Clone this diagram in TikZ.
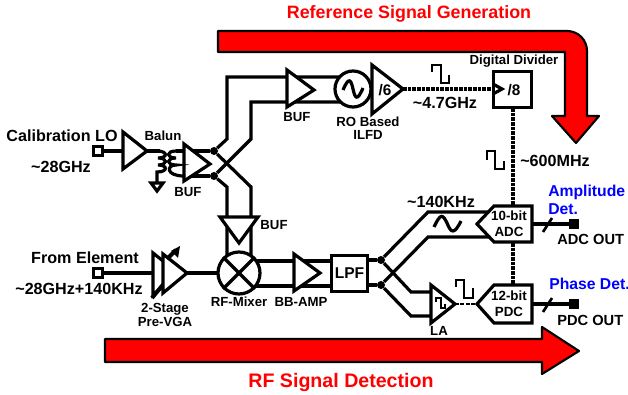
\documentclass[tikz,border=0pt]{standalone}
\usepackage{fontspec}
\setmainfont{Liberation Sans}
\begin{document}
\begin{tikzpicture}[x=0.75pt,y=-0.75pt,line join=miter,
  wire/.style={draw=black,line width=2.4pt},
  thin wire/.style={draw=black,line width=2pt},
  dwire/.style={draw=black,line width=2.8pt,dash pattern=on 2.8pt off 0.7pt},
  block/.style={draw=black,line width=2.4pt,fill=white},
  redarrow/.style={draw=black,line width=1.6pt,fill=red,line join=round},
  lab/.style={inner sep=0pt,font=\bfseries\fontsize{9.9}{11}\selectfont,align=center,text=black},
  big/.style={inner sep=0pt,font=\bfseries\fontsize{12.1}{14}\selectfont,align=center,text=black},
  mid/.style={inner sep=0pt,font=\bfseries\fontsize{12.1}{14}\selectfont,align=center,text=black},
  out lab/.style={inner sep=0pt,font=\bfseries\fontsize{11}{12}\selectfont,anchor=west,text=black},
  blue lab/.style={inner sep=0pt,font=\bfseries\fontsize{11.8}{14}\selectfont,align=left,text=blue,anchor=west},
  red lab/.style={inner sep=0pt,font=\bfseries\fontsize{13.4}{15}\selectfont,text=red},
  dot/.style={circle,fill=black,inner sep=0pt,minimum size=6pt},
  padbox/.style={draw=black,line width=2.2pt,fill=white,inner sep=0pt,minimum size=6.4pt},
  outbox/.style={fill=black,inner sep=0pt,minimum size=7.5pt}]
\useasboundingbox (0,0) rectangle (628,395);

% red arrows
\path[redarrow] (218,31) -- (567,31) to[out=0,in=90] (587,51) -- (587,116) -- (599,116) -- (576,143) -- (552,116) -- (565,116) -- (565,52) -- (218,52) -- cycle;
\path[redarrow] (105,339) -- (542,339) -- (542,327) -- (579,351) -- (542,374) -- (542,362) -- (105,362) -- cycle;
\node[red lab] (t1) at (409,14) {Reference Signal Generation};
\node[red lab,font=\bfseries\fontsize{14.7}{15}\selectfont] (t2) at (341,382) {RF Signal Detection};

% named points
\node[padbox] (pad1) at (98,151) {};
\node[padbox] (pad2) at (98,273) {};
\node[dot] (d1) at (214,151) {};
\node[dot] (d2) at (214,176) {};
\node[dot] (d3) at (381,260) {};
\node[dot] (d4) at (381,285) {};
\coordinate (loin) at (123,151);
\coordinate (loout) at (147,151);
\coordinate (vin) at (153,273);
\coordinate (vout) at (187,273);
\coordinate (ilfdout) at (403,89);

% wires
\draw[wire] (pad1) -- (loin);
\draw[wire] (pad2) -- (vin);
\draw[wire] (vout) -- (218,273);
\draw[wire] (184,151) -- (d1);
\draw[wire] (184,176) -- (d2);
\draw[wire] (d1) -- (227,139) -- (227,77) -- (340,77);
\draw[wire] (d2) -- (251,139) -- (251,102) -- (340,102);
\draw[wire] (d1) -- (251,187) -- (251,265);
\draw[wire] (d2) -- (227,187) -- (227,265);
\draw[wire] (255,261) -- (331,261);
\draw[wire] (255,286) -- (331,286);
\draw[wire] (368,260) -- (d3);
\draw[wire] (368,285) -- (d4);
\draw[wire] (d3) -- (428,212) -- (490,212);
\draw[wire] (d4) -- (428,237) -- (490,237);
\draw[wire] (d3) -- (411,292) -- (431,292);
\draw[wire] (d4) -- (411,316) -- (431,316);

% blocks
\path[block] (123,132) -- (147,151) -- (123,169) -- cycle;
\path[block] (184,144) -- (210,164) -- (184,181) -- cycle;
\path[block] (287,70) -- (314,90) -- (287,107) -- cycle;
\path[block] (220,217) -- (258,217) -- (239,243) -- cycle;
\path[block] (294,254) -- (320,273) -- (294,291) -- cycle;
\path[block] (431,285) -- (455,304) -- (431,323) -- cycle;
\path[block] (153,253) -- (178,273) -- (153,295) -- cycle;
\draw[wire,line width=3pt] (152,298) -- (166,281);
\path[block] (163,254) -- (187,273) -- (163,293) -- cycle;
\draw[wire,line width=3pt] (167,259) -- (176,250);
\path[fill=black] (180,246) -- (171,251) -- (178,258) -- cycle;
\node[block,circle,minimum size=27pt,inner sep=0pt] (osc) at (353,89) {};
\path[block] (372,65) -- (403,89) -- (372,114) -- cycle;
\node[inner sep=0pt,font=\bfseries\fontsize{11.5}{12}\selectfont] (d6) at (385,90) {/6};
\node[block,minimum width=28pt,minimum height=27.5pt,inner sep=0pt] (div) at (512.5,89.5) {};
\node[inner sep=0pt,font=\bfseries\fontsize{11.5}{12}\selectfont] (d8) at (514,90) {/8};
\node[block,circle,minimum size=31.5pt,inner sep=0pt] (mix) at (239,273) {};
\draw[wire] (mix.45) -- (mix.225);
\draw[wire] (mix.135) -- (mix.315);
\node[block,minimum width=27.5pt,minimum height=27.5pt,inner sep=0pt,font=\bfseries\fontsize{11.7}{12}\selectfont] (lpf) at (349.5,273.5) {LPF};
\path[block] (477,224) -- (494,206) -- (532,206) -- (532,242) -- (494,242) -- cycle;
\path[block] (477,304) -- (494,285) -- (532,285) -- (532,323) -- (494,323) -- cycle;
\node[lab,font=\bfseries\fontsize{10}{12}\selectfont] (adc) at (509,224) {10-bit\\ADC};
\node[lab,font=\bfseries\fontsize{10}{12}\selectfont] (pdc) at (509,304) {12-bit\\PDC};

% dashed
\draw[dwire] (ilfdout) -- (494,89);
\draw[wire] (493,84) -- (502,89) -- (493,94);
\draw[dwire] (513,108) -- (513,205);
\draw[dwire] (513,243) -- (513,285);
\draw[draw=black,line width=1.8pt,dash pattern=on 3pt off 1pt] (455,304) -- (477,304);

% outs
\node[outbox] (adcout) at (574,224) {};
\node[outbox] (pdcout) at (574,304) {};
\draw[wire] (532,224) -- (adcout);
\draw[wire] (532,304) -- (pdcout);
\draw[thin wire] (543,232) -- (552,218);
\draw[thin wire] (543,312) -- (552,298);

% balun
\draw[wire] (loout) -- (160,151);
\draw[wire,line cap=round] (157,151) .. controls (168,151) and (168,158) .. (158,158) .. controls (168,158) and (168,165) .. (158,165) .. controls (168,165) and (168,172) .. (157,172) -- (157,182);
\draw[wire,line cap=round] (176,151) .. controls (166,151) and (166,158) .. (176,158) .. controls (166,158) and (166,165) .. (176,165) .. controls (166,165) and (166,176) .. (184,176);
\draw[wire] (176,151) -- (184,151);
\path[block] (151,183) -- (163,183) -- (157,191) -- cycle;

% osc sine
\draw[wire] (343,90) .. controls (349,76) and (351,80) .. (353,89) .. controls (355,98) and (357,102) .. (363,88);
% adc sine
\draw[wire] (434,227) .. controls (441,212) and (443,215) .. (447,223) .. controls (451,233) and (454,235) .. (461,221);

% square waves
\draw[thin wire] (432,72) -- (432,65) -- (441,65) -- (441,83) -- (449,83) -- (449,75);
\draw[thin wire] (487,160) -- (487,151) -- (495,151) -- (495,169) -- (504,169) -- (504,161);
\draw[thin wire] (456,287) -- (456,280) -- (464,280) -- (464,298) -- (473,298) -- (473,288);
\draw[draw=black,line width=1pt] (436,302) -- (436,298) -- (441,298) -- (441,308) -- (445,308) -- (445,304);

% labels
\node[big] at (62,136) {Calibration LO};
\node[big] at (61,167) {\textasciitilde 28GHz};
\node[lab] at (163,136) {Balun};
\node[lab] at (188,192) {BUF};
\node[lab] at (297,117) {BUF};
\node[lab] at (274,225) {BUF};
\node[lab] at (368,122) {RO Based};
\node[lab] at (368,135) {ILFD};
\node[lab] at (514,61) {Digital Divider};
\node[mid] at (445,103) {\textasciitilde 4.7GHz};
\node[mid] at (555,161) {\textasciitilde 600MHz};
\node[mid] at (441,202) {\textasciitilde 140KHz};
\node[big] at (85,258) {From Element};
\node[big] at (79,289) {\textasciitilde 28GHz+140KHz};
\node[lab] at (165,309) {2-Stage};
\node[lab] at (165,322) {Pre-VGA};
\node[lab] at (239,302) {RF-Mixer};
\node[lab] at (301,302) {BB-AMP};
\node[lab] at (439,331) {LA};
\node[blue lab] at (548,192) {Amplitude};
\node[blue lab] at (548,209) {Det.};
\node[blue lab] at (549,284) {Phase Det.};
\node[out lab] at (557,239) {ADC OUT};
\node[out lab] at (557,320) {PDC OUT};
\end{tikzpicture}
\end{document}
